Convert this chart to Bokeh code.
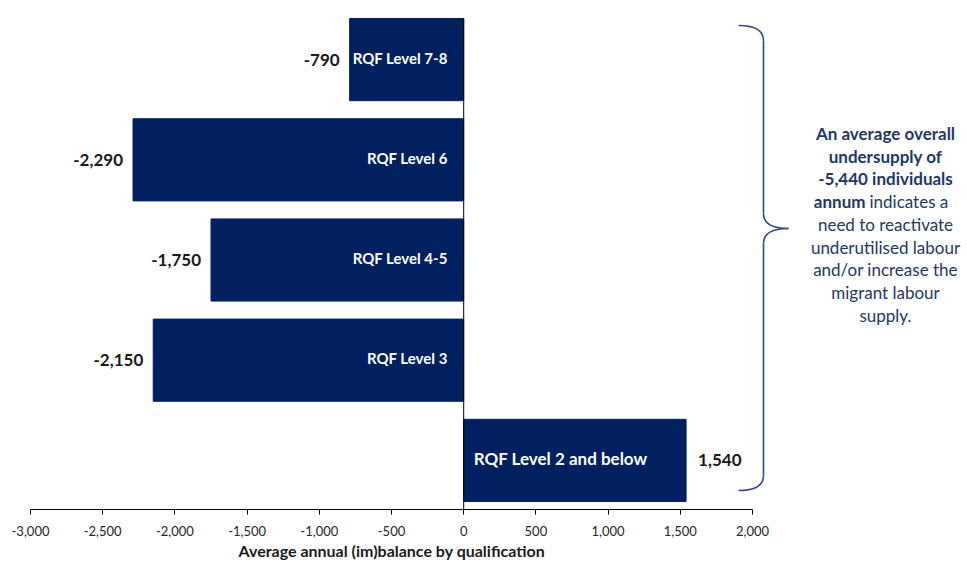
from bokeh.plotting import figure
from bokeh.models import ColumnDataSource, Range1d, FixedTicker, NumeralTickFormatter, Title
from bokeh.core.properties import value
from bokeh.embed import file_html
from bokeh.resources import INLINE

# ---- data ----
categories = ["RQF Level 7-8", "RQF Level 6", "RQF Level 4-5", "RQF Level 3", "RQF Level 2 and below"]
balance = [-790, -2290, -1750, -2150, 1540]
value_labels = ["-790", "-2,290", "-1,750", "-2,150", "1,540"]
x_ticks = [-3000, -2500, -2000, -1500, -1000, -500, 0, 500, 1000, 1500, 2000]
axis_title = "Average annual (im)balance by qualification"
note_lines = [
    [("An average overall", "bold")],
    [("undersupply of", "bold")],
    [("-5,440 individuals", "bold")],
    [("annum", "bold"), ("indicates a", "normal")],
    [("need to reactivate", "normal")],
    [("underutilised labour", "normal")],
    [("and/or increase the", "normal")],
    [("migrant labour", "normal")],
    [("supply.", "normal")],
]

FONT = "Lato"
NAVY = "#002060"
NOTE_COLOR = "#1F3864"
BRACE_COLOR = "#2F4A87"

W, H = 967, 564
LEFT, TOP, BOTTOM = 30, 14, 55
X0, X1 = -3000, 2000
AX_PX = 722  # pixels between -3000 and 2000
frame_w = W - LEFT
x_end = X0 + (X1 - X0) * frame_w / AX_PX
Y0, Y1 = -0.49, 4.45

n = len(categories)
ys = [n - 1 - i for i in range(n)]

p = figure(width=W, height=H, output_backend="svg", toolbar_location=None,
           x_range=Range1d(X0, x_end), y_range=Range1d(Y0, Y1),
           y_axis_location=None, min_border_left=LEFT, min_border_right=0,
           min_border_top=TOP, min_border_bottom=BOTTOM)
p.outline_line_color = None
p.xgrid.grid_line_color = None
p.ygrid.grid_line_color = None

# pixel helpers for annotation placement
px_per_x = AX_PX / (X1 - X0)
frame_h = H - TOP - BOTTOM
px_per_y = frame_h / (Y1 - Y0)
def fx(px):
    return X0 + (px - LEFT) / px_per_x
def fy(py):
    return Y1 - (py - TOP) / px_per_y

BAR_H = 0.82
src = ColumnDataSource(dict(
    y=ys, v=balance, cat=categories, lab=value_labels,
    val_align=["right" if v < 0 else "left" for v in balance],
    val_off=[-10 if v < 0 else 12 for v in balance],
    cat_align=["right" if v < 0 else "left" for v in balance],
    cat_off=[-16 if v < 0 else 10 for v in balance],
    cat_size=["15px" if v < 0 else "17px" for v in balance],
    zero=[0] * n,
))

p.hbar(y="y", left="zero", right="v", height=BAR_H, source=src,
       fill_color=NAVY, line_color=NAVY)

# zero line
p.segment(x0=0, y0=Y0, x1=0, y1=ys[0] + BAR_H / 2, line_color="black", line_width=1)

# value labels
p.text(x="v", y="y", text="lab", source=src, text_align="val_align",
       x_offset="val_off", text_baseline="middle",
       text_font=value(FONT), text_font_size="17px", text_font_style="bold",
       text_color="#1a1a1a")

# category labels inside bars
p.text(x="zero", y="y", text="cat", source=src, text_align="cat_align",
       x_offset="cat_off", y_offset=-2, text_baseline="middle",
       text_font=value(FONT), text_font_size="cat_size", text_font_style="bold",
       text_color="white")

# x axis
ax = p.xaxis[0]
ax.bounds = (X0, X1)
ax.ticker = FixedTicker(ticks=x_ticks)
ax.formatter = NumeralTickFormatter(format="0,0")
ax.major_tick_out = 5
ax.major_tick_in = 0
ax.minor_tick_line_color = None
ax.axis_line_color = "black"
ax.major_tick_line_color = "black"
ax.major_label_text_font = FONT
ax.major_label_text_font_size = "13px"
ax.major_label_text_color = "#262626"
ax.major_label_standoff = 11

# axis title, placed under the drawn axis
p.add_layout(Title(text=axis_title, align="left", offset=208, text_font=FONT,
                   text_font_size="16px", text_font_style="bold",
                   text_color="#1a1a1a", standoff=0), "below")

# brace
bx_end, bx_mid, bx_tip = 738, 763, 788
by_top, by_mid, by_bot = 25, 228, 490
r = 15
p.quadratic(x0=[fx(bx_end), fx(bx_mid), fx(bx_tip), fx(bx_mid)],
            y0=[fy(by_top), fy(by_mid - r), fy(by_mid), fy(by_bot - r)],
            x1=[fx(bx_mid), fx(bx_tip), fx(bx_mid), fx(bx_end)],
            y1=[fy(by_top + r), fy(by_mid), fy(by_mid + r), fy(by_bot)],
            cx=[fx(bx_mid), fx(bx_mid), fx(bx_mid), fx(bx_mid)],
            cy=[fy(by_top), fy(by_mid), fy(by_mid), fy(by_bot)],
            line_color=BRACE_COLOR, line_width=1.6)
p.segment(x0=[fx(bx_mid), fx(bx_mid)], y0=[fy(by_top + r), fy(by_mid + r)],
          x1=[fx(bx_mid), fx(bx_mid)], y1=[fy(by_mid - r), fy(by_bot - r)],
          line_color=BRACE_COLOR, line_width=1.6)

# note text
cx_px = 885
line0, step = 133, 22.7
NOTE_SIZE = "17px"
for k, runs in enumerate(note_lines):
    yy = fy(line0 + k * step)
    if len(runs) == 1:
        t, st = runs[0]
        p.text(x=[fx(cx_px)], y=[yy], text=[t], text_align="center", text_baseline="middle",
               text_font=value(FONT), text_font_size=NOTE_SIZE, text_font_style=st,
               text_color=NOTE_COLOR)
    else:
        split = 865
        (t1, s1), (t2, s2) = runs
        p.text(x=[fx(split)], y=[yy], text=[t1], text_align="right", text_baseline="middle",
               text_font=value(FONT), text_font_size=NOTE_SIZE, text_font_style=s1,
               text_color=NOTE_COLOR)
        p.text(x=[fx(split)], y=[yy], text=[t2], text_align="left", text_baseline="middle",
               x_offset=4,
               text_font=value(FONT), text_font_size=NOTE_SIZE, text_font_style=s2,
               text_color=NOTE_COLOR)

open("out.html", "w").write(file_html(p, INLINE))
